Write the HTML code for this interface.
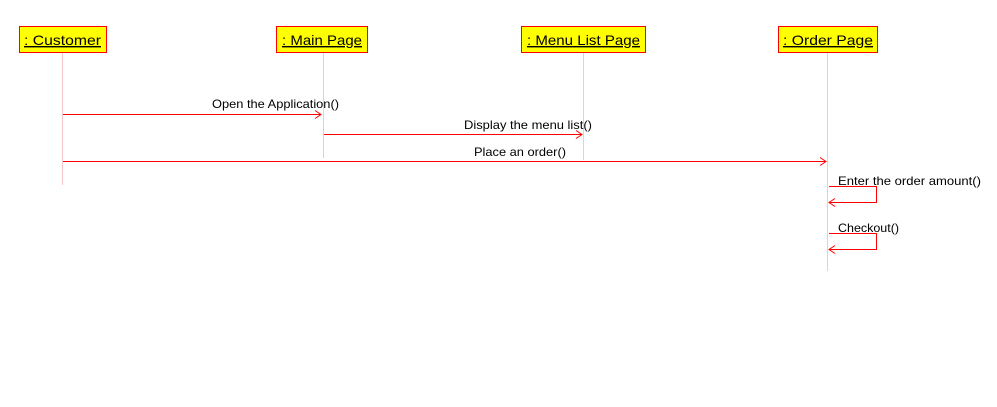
<!DOCTYPE html>
<html><head><style>
body{margin:0;background:#fff;}
svg text{font-family:"Liberation Sans",sans-serif;fill:#000;}
</style></head><body>
<svg width="997" height="402" xmlns="http://www.w3.org/2000/svg">
<g stroke="#f8c8c8" stroke-width="1">
<line x1="62.5" y1="53" x2="62.5" y2="185"/>
<line x1="323.5" y1="53" x2="323.5" y2="158"/>
<line x1="583.5" y1="53" x2="583.5" y2="160"/>
<line x1="827.5" y1="53" x2="827.5" y2="271"/>
</g>
<g fill="#ffff00" stroke="#ff0000" stroke-width="1">
<rect x="19.5" y="26.5" width="87" height="26"/>
<rect x="276.5" y="26.5" width="91" height="26"/>
<rect x="521.5" y="26.5" width="124" height="26"/>
<rect x="778.5" y="26.5" width="99" height="26"/>
</g>
<g font-size="14">
<text x="24" y="45" textLength="77" lengthAdjust="spacingAndGlyphs" text-decoration="underline">  : Customer</text>
<text x="282" y="45" textLength="80" lengthAdjust="spacingAndGlyphs" text-decoration="underline">  : Main Page</text>
<text x="527" y="45" textLength="113" lengthAdjust="spacingAndGlyphs" text-decoration="underline">  : Menu List Page</text>
<text x="783" y="45" textLength="90" lengthAdjust="spacingAndGlyphs" text-decoration="underline">  : Order Page</text>
</g>
<g stroke="#ff0000" stroke-width="1" fill="none">
<line x1="63" y1="114.5" x2="321" y2="114.5"/><polyline points="315,110.5 321,114.5 315,118.5"/>
<line x1="324" y1="134.5" x2="582" y2="134.5"/><polyline points="576,130.5 582,134.5 576,138.5"/>
<line x1="63" y1="161.5" x2="826" y2="161.5"/><polyline points="820,157.5 826,161.5 820,165.5"/>
<polyline points="829,186.5 876.5,186.5 876.5,202.5 829,202.5"/><polyline points="835,198.5 829,202.5 835,206.5"/>
<polyline points="829,233.5 876.5,233.5 876.5,249.5 829,249.5"/><polyline points="835,245.5 829,249.5 835,253.5"/>
</g>
<g font-size="12">
<text x="212" y="108" textLength="127" lengthAdjust="spacingAndGlyphs">Open the Application()</text>
<text x="464" y="129" textLength="128" lengthAdjust="spacingAndGlyphs">Display the menu list()</text>
<text x="474" y="156" textLength="92" lengthAdjust="spacingAndGlyphs">Place an order()</text>
<text x="838" y="185" textLength="143" lengthAdjust="spacingAndGlyphs">Enter the order amount()</text>
<text x="838" y="232" textLength="61" lengthAdjust="spacingAndGlyphs">Checkout()</text>
</g>
</svg>
</body></html>
